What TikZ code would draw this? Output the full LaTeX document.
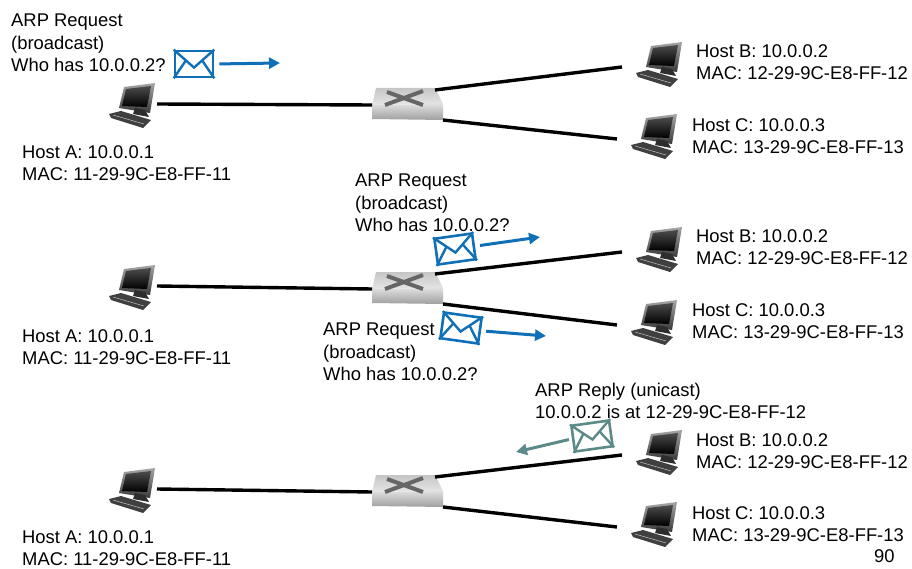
\documentclass[tikz,border=0pt]{standalone}
\usepackage{fontspec}
\setmainfont{Liberation Sans}
\usetikzlibrary{arrows.meta,calc}
\definecolor{mailblue}{HTML}{0F70B7}
\definecolor{mailteal}{HTML}{5B8A88}
\tikzset{
  wire/.style={line width=3.4pt, black},
  lbl/.style={anchor=west, align=left, inner sep=0pt, font=\fontsize{18.4}{22.3}\selectfont},
  mail/.style={draw=#1, fill=white, line width=2.6pt, minimum width=38pt, minimum height=26pt, inner sep=0pt},
  mailgo/.style={draw=#1, line width=3pt, -{Triangle[length=11pt,width=11pt]}},
}
% host icon: name, position
\newcommand{\hosticon}[2]{
\begin{scope}[shift={(#2)}]
\node (#1) at (0,0) [minimum size=48pt, inner sep=0pt]{};
\shade[top color=gray!70, bottom color=gray!45!black] (-9,-16) -- (22,-20) -- (17,10) -- (-14,5) -- cycle;
\shade[top color=gray!60!black, bottom color=black] (-7,-14) -- (18,-17) -- (14,4) -- (-11,3) -- cycle;
\fill[gray!35!black] (2,5) -- (12,7) -- (16,14) -- (0,11) -- cycle;
\fill[gray!50!black] (-24,11) -- (-12,8) -- (18,17) -- (10,25) -- (-22,15) -- cycle;
\draw[white!70!gray, line width=0.4pt] (-20,12) -- (11,21);
\coordinate (#1-e) at (24,1);
\coordinate (#1-w) at (-38,5);
\end{scope}}
% switch icon: name, position
\newcommand{\switchicon}[2]{
\begin{scope}[shift={(#2)}]
\node (#1) at (0,0) [minimum width=72pt, minimum height=32pt, inner sep=0pt]{};
\shade[top color=gray!25, bottom color=gray!75] (-35,5) -- (36,4) -- (36,20) -- (-35,19) -- cycle;
\shade[top color=gray!45, bottom color=gray!20] (-31,-12) -- (28,-12) -- (36,4) -- (-35,5) -- cycle;
\draw[gray!80!black, line width=4pt] (-20,-8) -- (16,5);
\draw[gray!80!black, line width=4pt] (16,-9) -- (-22,5);
\coordinate (#1-w) at (-35,5);
\coordinate (#1-ne) at (28,-10);
\coordinate (#1-se) at (36,20);
\end{scope}}
% envelope flap on a mail node
\newcommand{\mailflap}[2]{
\coordinate (#1-v) at ($(#1.center)!0.25!(#1.south)$);
\draw[#2, line width=2.4pt] (#1.north west) -- (#1-v) -- (#1.north east);
\draw[#2, line width=2.4pt] (#1.south west) -- ($(#1.north west)!0.6!(#1-v)$);
\draw[#2, line width=2.4pt] (#1.south east) -- ($(#1.north east)!0.6!(#1-v)$);}
\begin{document}
\begin{tikzpicture}[x=1pt,y=-1pt]
\useasboundingbox (0,0) rectangle (912,569);

% top network
\hosticon{hostAa}{133,103}
\hosticon{hostBa}{660,62}
\hosticon{hostCa}{655,134}
\switchicon{swa}{407,100}
\draw[wire] (hostAa-e) -- (swa-w);
\draw[wire] (swa-ne) -- (hostBa-w);
\draw[wire] (swa-se) -- (hostCa-w);
\node[lbl] (reqa) at (11,43) {ARP Request\\(broadcast)\\Who has 10.0.0.2?};
\node[lbl] (infoAa) at (22,163) {Host A: 10.0.0.1\\MAC: 11-29-9C-E8-FF-11};
\node[lbl] (infoBa) at (696,62) {Host B: 10.0.0.2\\MAC: 12-29-9C-E8-FF-12};
\node[lbl] (infoCa) at (692,136) {Host C: 10.0.0.3\\MAC: 13-29-9C-E8-FF-13};
\node[mail=mailblue] (maila) at (194,64) {};
\mailflap{maila}{mailblue}
\coordinate (goa) at (280,63);
\draw[mailgo=mailblue, shorten <=5pt] (maila.east) -- (goa);

% middle network
\hosticon{hostAb}{133,285}
\hosticon{hostBb}{660,247}
\hosticon{hostCb}{655,320}
\switchicon{swb}{407,284}
\draw[wire] (hostAb-e) -- (swb-w);
\draw[wire] (swb-ne) -- (hostBb-w);
\draw[wire] (swb-se) -- (hostCb-w);
\node[lbl] (reqb) at (355,203) {ARP Request\\(broadcast)\\Who has 10.0.0.2?};
\node[lbl] (reqc) at (323,352) {ARP Request\\(broadcast)\\Who has 10.0.0.2?};
\node[lbl] (infoAb) at (22,347) {Host A: 10.0.0.1\\MAC: 11-29-9C-E8-FF-11};
\node[lbl] (infoBb) at (696,247) {Host B: 10.0.0.2\\MAC: 12-29-9C-E8-FF-12};
\node[lbl] (infoCb) at (692,321) {Host C: 10.0.0.3\\MAC: 13-29-9C-E8-FF-13};
\node[mail=mailblue, rotate=8] (mailb) at (455,249) {};
\mailflap{mailb}{mailblue}
\coordinate (gob) at (540,237);
\draw[mailgo=mailblue, shorten <=5pt] (mailb.east) -- (gob);
\node[mail=mailblue, rotate=-8] (mailc) at (461,328) {};
\mailflap{mailc}{mailblue}
\coordinate (goc) at (546,336);
\draw[mailgo=mailblue, shorten <=5pt] (mailc.east) -- (goc);

% bottom network
\hosticon{hostAc}{133,488}
\hosticon{hostBc}{660,450}
\hosticon{hostCc}{655,522}
\switchicon{swc}{407,487}
\draw[wire] (hostAc-e) -- (swc-w);
\draw[wire] (swc-ne) -- (hostBc-w);
\draw[wire] (swc-se) -- (hostCc-w);
\node[lbl] (rep) at (535,401) {ARP Reply (unicast)\\10.0.0.2 is at 12-29-9C-E8-FF-12};
\node[lbl] (infoAc) at (22,548) {Host A: 10.0.0.1\\MAC: 11-29-9C-E8-FF-11};
\node[lbl] (infoBc) at (696,451) {Host B: 10.0.0.2\\MAC: 12-29-9C-E8-FF-12};
\node[lbl] (infoCc) at (692,524) {Host C: 10.0.0.3\\MAC: 13-29-9C-E8-FF-13};
\node[mail=mailteal, rotate=8] (maild) at (592,436) {};
\mailflap{maild}{mailteal}
\coordinate (god) at (516,452);
\draw[mailgo=mailteal, shorten <=3pt] (maild.west) -- (god);

\node[lbl] (pagenum) at (874,556) {90};
\end{tikzpicture}
\end{document}
